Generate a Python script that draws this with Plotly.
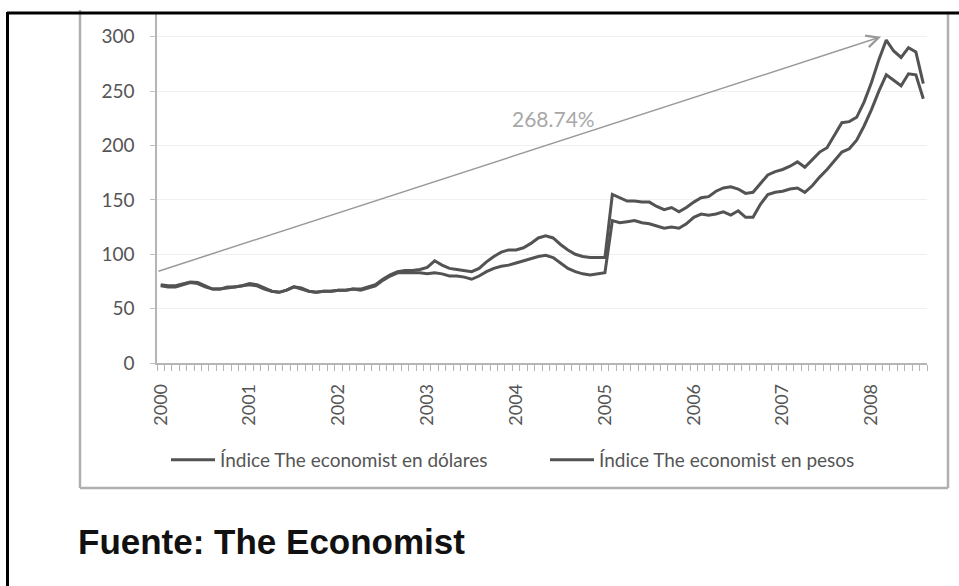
import plotly.graph_objects as go

# ---- data (monthly, Jan 2000 - Aug 2008) ----
years = ["2000", "2001", "2002", "2003", "2004", "2005", "2006", "2007", "2008"]
indice_dolares = [
    72, 71, 71, 73, 74.5, 74, 71, 68, 68, 70, 70, 71,
    73, 72, 69, 66, 65, 67, 70, 69, 66, 65, 66, 66,
    67, 67, 68, 68, 70, 72, 77, 81, 84, 85, 85, 86,
    88, 94, 90, 87, 86, 85, 84, 87, 93, 98, 102, 104,
    104, 106, 110, 115, 117, 115, 109, 104, 100, 98, 97, 97,
    97, 155, 152, 149, 149, 148, 148, 144, 141, 143, 139, 143,
    148, 152, 153, 158, 161, 162, 160, 156, 157, 165, 173, 176,
    178, 181, 185, 180, 187, 194, 198, 210, 221, 222, 226, 240,
    258, 279, 297, 287, 281, 290, 286, 257,
]
indice_pesos = [
    71, 70, 70, 72, 74, 73, 70, 68, 68, 69, 70, 71,
    72, 71, 68, 66, 65, 67, 70, 68, 66, 65, 66, 66,
    67, 67, 68, 67, 69, 71, 76, 80, 83, 83, 83, 83,
    82, 83, 82, 80, 80, 79, 77, 80, 84, 87, 89, 90,
    92, 94, 96, 98, 99, 97, 92, 87, 84, 82, 81, 82,
    83, 131, 129, 130, 131, 129, 128, 126, 124, 125, 124, 128,
    134, 137, 136, 137, 139, 136, 140, 134, 134, 146, 155, 157,
    158, 160, 161, 157, 163, 171, 178, 186, 194, 197, 205, 218,
    233, 250, 265, 260, 255, 266, 265, 243,
]
y_ticks = [0, 50, 100, 150, 200, 250, 300]
arrow_start = (-0.5, 84)
arrow_end = (97.3, 300)
arrow_label = "268.74%"

months = list(range(len(indice_dolares)))
year_pos = [12 * k for k in range(len(years))]

# ---- layout geometry (pixels) ----
W, H = 959, 586
L, R, T, B = 157, 927, 14, 363
ymax = 321


def px(x):
    return (x - L) / (R - L)


def py(y):
    return (B - y) / (B - T)


line_col = "#535353"
fig = go.Figure()
fig.add_trace(go.Scatter(x=months, y=indice_dolares, mode="lines",
                         name="Índice The economist en dólares",
                         line=dict(color=line_col, width=3)))
fig.add_trace(go.Scatter(x=months, y=indice_pesos, mode="lines",
                         name="Índice The economist en pesos",
                         line=dict(color=line_col, width=3)))

fig.add_annotation(x=arrow_end[0], y=arrow_end[1], ax=arrow_start[0], ay=arrow_start[1],
                   xref="x", yref="y", axref="x", ayref="y", text="",
                   showarrow=True, arrowhead=5, arrowsize=1.6, arrowwidth=1.5,
                   arrowcolor="#9a9a9a", standoff=0)
fig.add_annotation(x=53.0, y=225, xref="x", yref="y", text=arrow_label,
                   showarrow=False, font=dict(family="Lato", size=21, color="#a8a8a8"))
fig.add_annotation(x=px(76), y=py(541), xref="paper", yref="paper",
                   text="<b>Fuente: The Economist</b>", showarrow=False,
                   xanchor="left", yanchor="middle",
                   font=dict(family="Liberation Sans, Arial", size=35, color="#111111"))

shapes = [
    # chart box (gray)
    dict(type="line", xref="paper", yref="paper", x0=px(80), x1=px(80), y0=py(10), y1=py(488),
         line=dict(color="#b0b0b0", width=2.5)),
    dict(type="line", xref="paper", yref="paper", x0=px(80), x1=px(948), y0=py(488), y1=py(488),
         line=dict(color="#b0b0b0", width=2.5)),
    dict(type="line", xref="paper", yref="paper", x0=px(948), x1=px(948), y0=py(14), y1=py(488),
         line=dict(color="#b0b0b0", width=2.5)),
    # outer black frame (top and left)
    dict(type="line", xref="paper", yref="paper", x0=px(7), x1=px(962), y0=py(13), y1=py(13),
         line=dict(color="#000000", width=3)),
    dict(type="line", xref="paper", yref="paper", x0=px(7.5), x1=px(7.5), y0=py(12), y1=py(590),
         line=dict(color="#000000", width=3)),
]

fig.update_layout(
    width=W, height=H,
    margin=dict(l=L, r=W - R, t=T, b=H - B),
    paper_bgcolor="white", plot_bgcolor="white",
    shapes=shapes,
    showlegend=True,
    legend=dict(orientation="h", x=px(166), y=py(460), xanchor="left", yanchor="middle",
                font=dict(family="Lato", size=19, color="#555555"),
                itemwidth=44,
                entrywidth=320, entrywidthmode="pixels", bgcolor="rgba(0,0,0,0)"),
    xaxis=dict(range=[-0.5, len(months) - 0.5], tickmode="array", tickvals=year_pos,
               ticktext=years, tickangle=-90, ticks="", showgrid=False, zeroline=False,
               showline=True, linecolor="#b5b5b5", linewidth=1.5,
               tickfont=dict(family="Lato", size=18, color="#555555"),
               minor=dict(ticks="outside", tickmode="linear", tick0=-0.5, dtick=1,
                          ticklen=6, tickcolor="#b5b5b5", tickwidth=1, showgrid=False),
               ticklabelstandoff=12),
    yaxis=dict(range=[0, ymax], tickmode="array", tickvals=y_ticks, ticks="outside",
               ticklen=5, tickcolor="#c0c0c0", showgrid=True, gridcolor="#f0f0f0",
               zeroline=False, showline=True, linecolor="#b5b5b5", linewidth=1.5,
               tickfont=dict(family="Lato", size=19, color="#555555"),
               ticklabelstandoff=12),
)

fig.write_html("out.html")
